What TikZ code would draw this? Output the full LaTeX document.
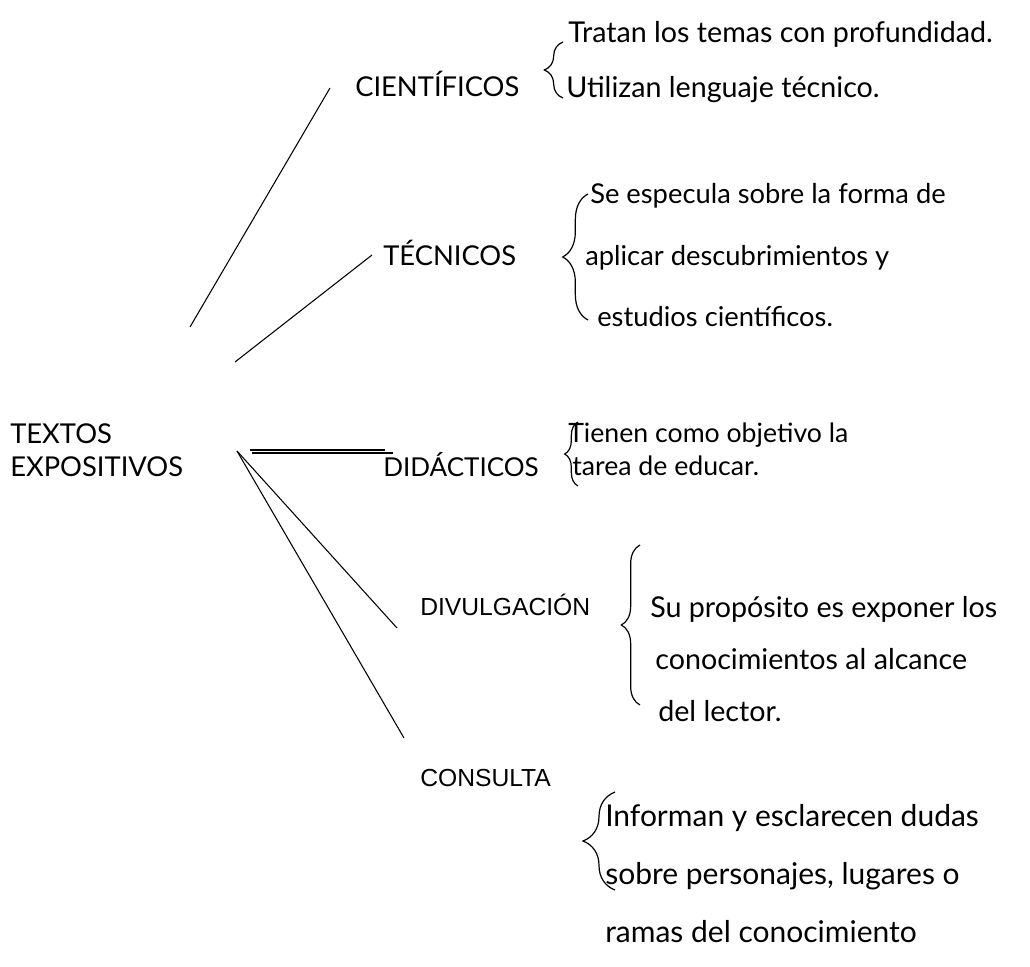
\documentclass[tikz,border=0pt]{standalone}
\usepackage{fontspec}
\setmainfont{Lato}
\newfontfamily\arialf{Liberation Sans}
\usetikzlibrary{decorations.pathreplacing}
\begin{document}
\begin{tikzpicture}[x=0.75pt,y=-0.75pt,
  txt/.style={font=\fontsize{#1}{#1}\selectfont, inner sep=0pt, anchor=base west},
  hd/.style={font=\fontsize{20.5}{24}\selectfont, inner sep=0pt, anchor=base west},
  hda/.style={font=\arialf\fontsize{18.5}{22}\selectfont, inner sep=0pt, anchor=base west},
  ln/.style={line width=0.8pt},
  br/.style={line width=0.9pt, decorate, decoration={brace, amplitude=#1}}]
\useasboundingbox (0,0) rectangle (1030,966);

% headings
\node[hd] (textos) at (10,443) {TEXTOS};
\node[hd] (expo) at (10,476) {EXPOSITIVOS};
\node[hd] (cien) at (355,97) {CIENTÍFICOS};
\node[hd] (tec) at (383,265) {TÉCNICOS};
\node[hd, font=\fontsize{19.5}{24}\selectfont] (did) at (383,476) {DIDÁCTICOS};
\node[hda] (div) at (420,615) {DIVULGACIÓN};
\node[hda] (cons) at (420,786) {CONSULTA};

% descriptions
\node[txt=21.5] (c1) at (568,43) {Tratan los temas con profundidad.};
\node[txt=21.5] (c2) at (566,98) {Utilizan lenguaje técnico.};
\node[txt=20.5] (t1) at (590,204) {Se especula sobre la forma de};
\node[txt=20.5] (t2) at (585,265) {aplicar descubrimientos y};
\node[txt=20.5] (t3) at (597,326) {estudios científicos.};
\node[txt=20] (d1) at (568,442) {Tienen como objetivo la};
\node[txt=20] (d2) at (572,475) {tarea de educar.};
\node[txt=21.5] (v1) at (650,617) {Su propósito es exponer los};
\node[txt=21.5] (v2) at (655,669) {conocimientos al alcance};
\node[txt=21.5] (v3) at (658,721) {del lector.};
\node[txt=22.5] (k1) at (605,826) {Informan y esclarecen dudas};
\node[txt=22.5] (k2) at (605,884) {sobre personajes, lugares o};
\node[txt=22.5] (k3) at (605,942) {ramas del conocimiento};

% connector endpoints
\coordinate (vx) at (237,451);
\coordinate (cienA) at (190,327);
\coordinate (cienB) at (330,88);
\coordinate (tecA) at (235,362);
\coordinate (tecB) at (372,255);
\coordinate (didA) at (250,450);
\coordinate (didB) at (385,450);
\coordinate (didA2) at (252,453);
\coordinate (didB2) at (393,453);
\coordinate (divB) at (397,628);
\coordinate (consB) at (404,738);

\draw[ln] (cienA) -- (cienB);
\draw[ln] (tecA) -- (tecB);
\draw[ln] (didA) -- (didB);
\draw[ln] (didA2) -- (didB2);
\draw[ln] (vx) -- (divB);
\draw[ln] (vx) -- (consB);

% braces
\coordinate (cbT) at (563,42);  \coordinate (cbB) at (563,98);
\coordinate (tbT) at (588,194); \coordinate (tbB) at (588,320);
\coordinate (dbT) at (578,422); \coordinate (dbB) at (578,486);
\coordinate (vbT) at (640,545); \coordinate (vbB) at (640,705);
\coordinate (kbT) at (615,792); \coordinate (kbB) at (615,890);
\draw[br=14pt] (cbB) -- (cbT);
\draw[br=19pt] (tbB) -- (tbT);
\draw[br=10pt] (dbB) -- (dbT);
\draw[br=14pt] (vbB) -- (vbT);
\draw[br=24pt] (kbB) -- (kbT);
\end{tikzpicture}
\end{document}
